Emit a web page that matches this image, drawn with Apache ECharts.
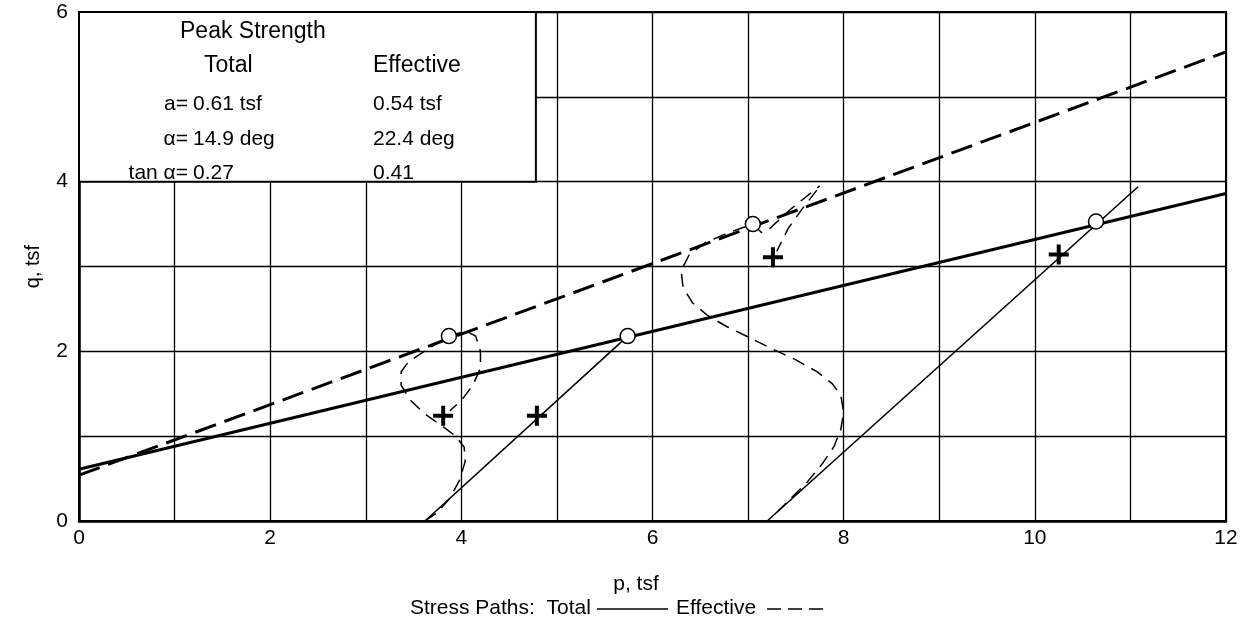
<!DOCTYPE html>
<html>
<head>
<meta charset="utf-8">
<script src="https://cdn.jsdelivr.net/npm/echarts@6/dist/echarts.min.js"></script>
<style>
html, body { margin: 0; padding: 0; background: #fff; }
#chart { width: 1241px; height: 624px; }
</style>
</head>
<body>
<div id="chart"></div>
<script>
/************* stress path chart **************/

var xTicks = [0, 2, 4, 6, 8, 10, 12];
var yTicks = [0, 2, 4, 6];

// failure envelopes (q = a + p tan alpha)
var totalEnvelope = [[0, 0.61], [12, 3.86]];
var effectiveEnvelope = [[0, 0.54], [12, 5.53]];

// total stress paths
var totalPathA = [[3.62, 0], [5.74, 2.18]];
var totalPathB = [[7.2, 0], [11.08, 3.94]];

// effective stress paths
var effectivePathA = [[3.62, 0], [3.75, 0.1], [3.88, 0.27], [3.98, 0.48], [4.04, 0.7], [4.03, 0.87],
    [3.94, 1.0], [3.8, 1.12], [3.62, 1.26], [3.47, 1.42], [3.37, 1.6], [3.37, 1.76], [3.45, 1.88],
    [3.6, 1.99], [3.75, 2.1], [3.87, 2.18], [4.05, 2.24], [4.15, 2.18], [4.2, 2.0], [4.2, 1.8],
    [4.12, 1.6], [4.0, 1.42], [3.88, 1.3]];
var effectivePathB = [[7.3, 0.1], [7.45, 0.27], [7.62, 0.46], [7.78, 0.68], [7.9, 0.88], [7.97, 1.08],
    [8.0, 1.28], [7.97, 1.48], [7.88, 1.62], [7.72, 1.76], [7.5, 1.9], [7.25, 2.03], [7.0, 2.17],
    [6.78, 2.29], [6.58, 2.42], [6.42, 2.57], [6.32, 2.75], [6.3, 2.95], [6.38, 3.13], [6.55, 3.28],
    [6.8, 3.4], [7.05, 3.5], [7.14, 3.4], [7.22, 3.44], [7.45, 3.68], [7.75, 3.95]];
var effectivePathBTail = [[7.72, 3.9], [7.58, 3.7], [7.42, 3.45], [7.3, 3.18]];

// peak points (circles) and matching points (crosses)
var peakPoints = [[3.87, 2.18], [5.74, 2.18], [7.05, 3.5], [10.64, 3.53]];
var crossPoints = [[3.81, 1.24], [4.79, 1.24], [7.26, 3.11], [10.25, 3.14]];

var FONT = '"Liberation Sans", Arial, Helvetica, sans-serif';

var chart = echarts.init(document.getElementById('chart'));

function pathLine(name, data, width, dash) {
    return {
        name: name,
        type: 'line',
        data: data,
        symbol: 'none',
        silent: true,
        z: 3,
        lineStyle: { color: '#000', width: width, type: dash || 'solid', opacity: 1 }
    };
}

function boxText(text, x, y, size, align) {
    return {
        type: 'text',
        x: x,
        y: y,
        z: 100,
        style: {
            text: text,
            fill: '#000',
            font: size + 'px ' + FONT,
            textAlign: align || 'left',
            textVerticalAlign: 'middle'
        }
    };
}

var option = {
    animation: false,
    backgroundColor: '#fff',
    grid: {
        left: 79,
        right: 15,
        top: 12,
        bottom: 103,
        show: true,
        borderColor: '#000',
        borderWidth: 2,
        backgroundColor: 'transparent'
    },
    xAxis: {
        type: 'value',
        min: 0,
        max: 12,
        interval: 1,
        axisLine: { show: true, onZero: false, lineStyle: { color: '#000', width: 2.5 } },
        axisTick: { show: false },
        axisLabel: {
            color: '#000',
            fontSize: 21,
            fontFamily: FONT,
            margin: 7,
            formatter: function (v) { return xTicks.indexOf(v) >= 0 ? String(v) : ''; }
        },
        splitLine: { show: true, lineStyle: { color: '#000', width: 1.3 } }
    },
    yAxis: {
        type: 'value',
        min: 0,
        max: 6,
        interval: 1,
        name: 'q, tsf',
        nameLocation: 'middle',
        nameGap: 36,
        nameRotate: 90,
        nameTextStyle: { color: '#000', fontSize: 20, fontFamily: FONT },
        axisLine: { show: true, onZero: false, lineStyle: { color: '#000', width: 2.5 } },
        axisTick: { show: false },
        axisLabel: {
            color: '#000',
            fontSize: 21,
            fontFamily: FONT,
            margin: 11,
            formatter: function (v) { return yTicks.indexOf(v) >= 0 ? String(v) : ''; }
        },
        splitLine: { show: true, lineStyle: { color: '#000', width: 1.3 } }
    },
    graphic: [
        boxText('Peak Strength', 180, 32, 23),
        boxText('Total', 204, 66, 23),
        boxText('Effective', 373, 66, 23),
        boxText('a=', 188, 104, 21, 'right'),
        boxText('0.61 tsf', 193, 104, 21),
        boxText('0.54 tsf', 373, 104, 21),
        boxText('\u03b1=', 188, 139, 21, 'right'),
        boxText('14.9 deg', 193, 139, 21),
        boxText('22.4 deg', 373, 139, 21),
        boxText('tan \u03b1=', 188, 173, 21, 'right'),
        boxText('0.27', 193, 173, 21),
        boxText('0.41', 373, 173, 21),
        boxText('p, tsf', 636, 584, 21, 'center'),
        boxText('Stress Paths:  Total', 410, 608, 21),
        {
            type: 'line',
            shape: { x1: 597, y1: 609, x2: 668, y2: 609 },
            style: { stroke: '#000', lineWidth: 1.5 }
        },
        boxText('Effective', 676, 608, 21),
        {
            type: 'line',
            shape: { x1: 767, y1: 609, x2: 830, y2: 609 },
            style: { stroke: '#000', lineWidth: 1.5, lineDash: [14, 7] }
        }
    ],
    series: [
        // legend box inside the plot
        {
            type: 'line',
            data: [],
            silent: true,
            z: 5,
            markArea: {
                silent: true,
                itemStyle: { color: '#fff', borderColor: '#000', borderWidth: 2, opacity: 1 },
                data: [[{ coord: [0, 4] }, { coord: [4.78, 6] }]]
            }
        },
        pathLine('Total envelope', totalEnvelope, 3),
        pathLine('Effective envelope', effectiveEnvelope, 3, [22, 9]),
        pathLine('Total path A', totalPathA, 1.6),
        pathLine('Total path B', totalPathB, 1.6),
        pathLine('Effective path A', effectivePathA, 1.5, [13, 8]),
        pathLine('Effective path B', effectivePathB, 1.5, [13, 8]),
        pathLine('Effective path B tail', effectivePathBTail, 1.5, [13, 8]),
        {
            name: 'Peak',
            type: 'scatter',
            data: peakPoints,
            symbol: 'circle',
            symbolSize: 15,
            silent: true,
            z: 6,
            itemStyle: { color: '#fff', borderColor: '#000', borderWidth: 1.5, opacity: 1 }
        },
        {
            name: 'Cross',
            type: 'scatter',
            data: crossPoints,
            symbol: 'path://M8,0h4v8h8v4h-8v8h-4v-8h-8v-4h8z',
            symbolSize: 20,
            silent: true,
            z: 6,
            itemStyle: { color: '#000', opacity: 1 }
        }
    ]
};

chart.setOption(option);
</script>
</body>
</html>
